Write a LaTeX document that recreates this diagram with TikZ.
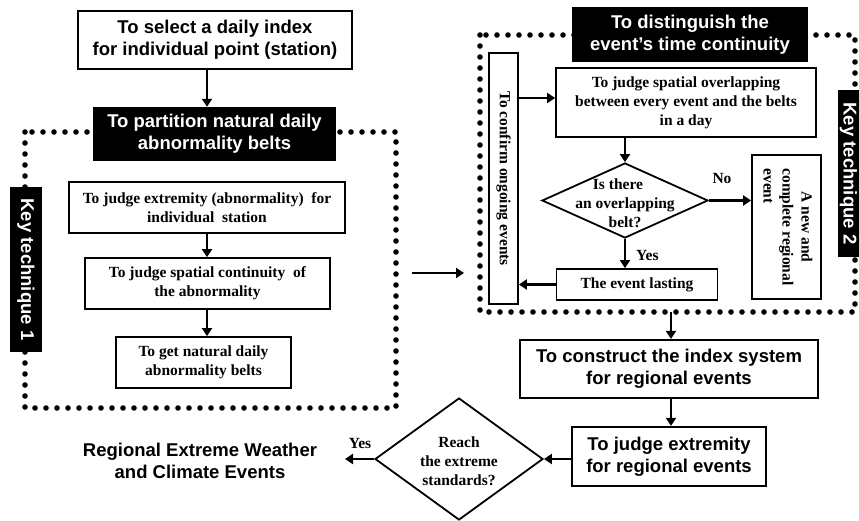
\documentclass[tikz,border=0pt]{standalone}
\usepackage{fontspec}
\setmainfont{Liberation Serif}
\setsansfont{Liberation Sans}
\usetikzlibrary{arrows.meta,shapes.geometric}
\begin{document}
\begin{tikzpicture}[x=1pt,y=-1pt,
  sbox/.style={draw,line width=2.3pt,font=\sffamily\bfseries\fontsize{18.5}{22}\selectfont,align=center,inner sep=0pt},
  hbox/.style={fill=black,text=white,font=\sffamily\bfseries\fontsize{18.5}{22}\selectfont,align=center,inner sep=0pt},
  tbox/.style={draw,line width=1.8pt,font=\bfseries\fontsize{15.5}{19}\selectfont,align=center,inner sep=0pt},
  dia/.style={draw,diamond,line width=1.8pt,inner sep=0pt},
  lbl/.style={font=\bfseries\fontsize{15.5}{19}\selectfont,align=center,inner sep=0pt},
  arr/.style={line width=2.6pt,-{Triangle[length=8pt,width=10pt]}},
  dots/.style={line width=5.6pt,line cap=round,dash pattern=on 0pt off 11pt}]
\useasboundingbox (0,0) rectangle (859,520);

% dotted frames
\draw[dots] (25,132) rectangle (396,408);
\draw[dots] (480,35) rectangle (855,312);

% left part
\node[sbox,minimum width=274pt,minimum height=58pt] (top) at (215,40) {To select a daily index\\for individual point (station)};
\node[hbox,minimum width=243pt,minimum height=54pt] (part) at (214.5,134) {To partition natural daily\\abnormality belts};
\node[hbox,rotate=-90,minimum width=165pt,minimum height=32pt] (kt1) at (26,269.5) {Key technique 1};
\node[tbox,minimum width=276pt,minimum height=51pt] (j1) at (207,207.5) {To judge extremity (abnormality)\ \ for\\individual\ \ station};
\node[tbox,minimum width=245pt,minimum height=51pt] (j2) at (207.5,283.5) {To judge spatial continuity\ \ of\\the abnormality};
\node[tbox,minimum width=175pt,minimum height=51pt] (j3) at (203.5,362.5) {To get natural daily\\abnormality belts};

% right part
\node[hbox,minimum width=236pt,minimum height=55pt] (dist) at (690,34.5) {To distinguish the\\event’s time continuity};
\node[hbox,rotate=-90,minimum width=167pt,minimum height=21pt] (kt2) at (848.5,173.5) {Key technique 2};
\node[tbox,rotate=-90,minimum width=251pt,minimum height=29pt] (conf) at (503.5,178.5) {To confirm ongoing events};
\node[tbox,minimum width=260pt,minimum height=69pt] (ov) at (686,102.5) {To judge spatial overlapping\\between every event and the belts\\in a day};
\node[dia,minimum width=166pt,minimum height=75pt] (d1) at (625,200.5) {};
\node[lbl] (d1t) at (625,203) {\hspace*{-14pt}Is there\\an overlapping\\belt?};
\node[tbox,rotate=-90,minimum width=144pt,minimum height=69pt] (new) at (786.5,227) {\begin{tabular}{@{}l@{}}\multicolumn{1}{@{}c@{}}{A new and}\\complete regional\\event\end{tabular}};
\node[lbl] (no) at (722,178) {No};
\node[lbl,anchor=west] (yes1) at (636,255) {Yes};
\node[tbox,minimum width=161pt,minimum height=31pt] (last) at (637,284.5) {The event lasting};

% bottom part
\node[sbox,minimum width=298pt,minimum height=58pt] (cons) at (669,369) {To construct the index system\\for regional events};
\node[sbox,minimum width=194pt,minimum height=59pt] (jr) at (669,456.5) {To judge extremity\\for regional events};
\node[dia,minimum width=168pt,minimum height=122pt] (d2) at (459,459) {};
\node[lbl] (d2t) at (459,461) {Reach\\the extreme\\standards?};
\node[lbl] (yes2) at (360,443) {Yes};
\node[font=\sffamily\bfseries\fontsize{18.5}{22}\selectfont,align=center,inner sep=0pt] (out) at (200,461) {Regional Extreme Weather\\and Climate Events};

\coordinate (la) at (412,273);
\coordinate (lb) at (464,273);
\coordinate (rb) at (671,312);
\coordinate (res) at (345,459);

% connectors
\draw[arr] (top.south -| j1.north) -- (part.north -| j1.north);
\draw[arr] (j1.south) -- (j1.south |- j2.north);
\draw[arr] (j2.south -| j1.south) -- (j3.north -| j1.south);
\draw[arr] (la) -- (lb);
\draw[arr] (conf.north |- 0,98) -- (ov.west |- 0,98);
\draw[arr] (ov.south -| d1.north) -- (d1.north);
\draw[arr] (d1.east) -- (d1.east -| new.south);
\draw[arr] (d1.south) -- (d1.south |- last.north);
\draw[arr] (last.west) -- (last.west -| conf.north);
\draw[arr] (rb) -- (rb |- cons.north);
\draw[arr] (cons.south -| rb) -- (jr.north -| rb);
\draw[arr] (jr.west |- d2.east) -- (d2.east);
\draw[arr] (d2.west) -- (res);
\end{tikzpicture}
\end{document}
